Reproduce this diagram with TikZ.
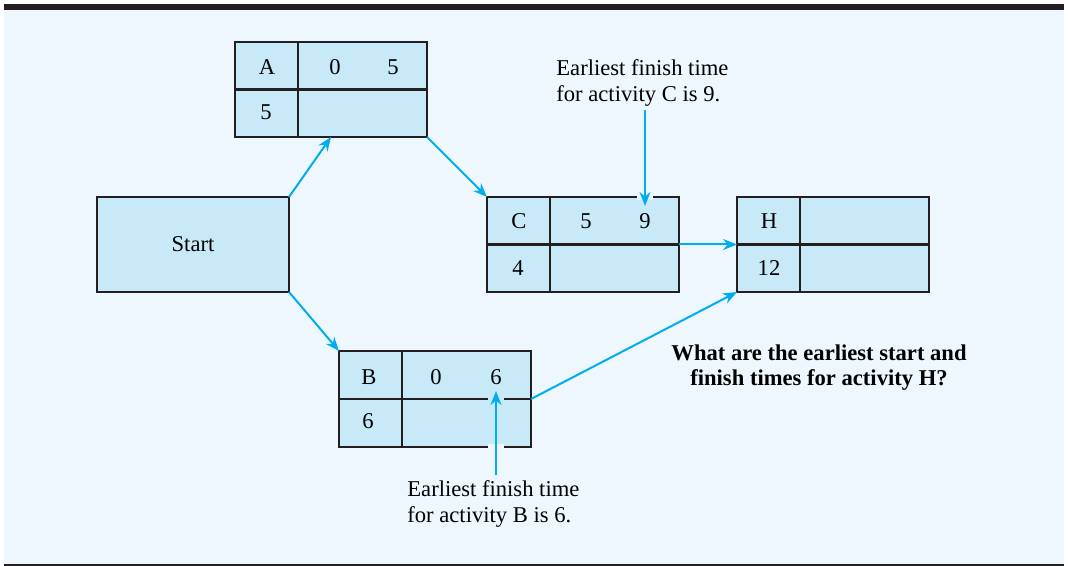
\documentclass[tikz,border=0pt]{standalone}
\usepackage{fontspec}
\setmainfont{Liberation Serif}
\usetikzlibrary{calc,arrows.meta}

\definecolor{panelbg}{HTML}{EEF7FD}
\definecolor{boxfill}{HTML}{C8E9F8}
\definecolor{boxline}{HTML}{231F20}
\definecolor{linkcyan}{HTML}{00AEEF}

\tikzset{
  actbox/.style={draw=boxline,fill=boxfill,line width=1.1pt,
    minimum width=96pt,minimum height=47.5pt,inner sep=0pt,outer sep=0pt},
  cellline/.style={draw=boxline,line width=1.1pt},
  link/.style={draw=linkcyan,line width=1pt,-{Stealth[length=7pt,width=5.5pt]}},
  gapmark/.style={line width=8pt},
}

\begin{document}
\begin{tikzpicture}[x=.5pt,y=-.5pt,
      every node/.style={font=\fontsize{11.3}{13}\selectfont,inner sep=0pt}]
    % panel
    \fill[white] (0,0) rectangle (1068,566);
    \fill[panelbg] (4,10) rectangle (1064,564);
    \fill[boxline] (4,4) rectangle (1064,10);
    \fill[boxline] (4,564) rectangle (1064,566);

    % boxes
    \node[actbox] (A) at (331,89.5) {};
    \node[actbox] (Start) at (193,244.5) {Start};
    \node[actbox] (C) at (583,244.5) {};
    \node[actbox] (H) at (833,244.5) {};
    \node[actbox,minimum height=48pt] (B) at (435,399) {};
    \foreach \n in {A,C,H,B} {
      \draw[cellline] (\n.west) -- (\n.east);
      \draw[cellline] ($(\n.north west)!.33!(\n.north east)$)
        -- ($(\n.south west)!.33!(\n.south east)$);
    }

    % cells
    \node (Aname) at (267,67) {A};
    \node (Aes) at (335,67) {0};
    \node (Aef) at (393,67) {5};
    \node (Adur) at (266,112) {5};
    \node (Cname) at (519,221) {C};
    \node (Ces) at (586,221) {5};
    \node (Cef) at (645,221) {9};
    \node (Cdur) at (518,268) {4};
    \node (Hname) at (769,221) {H};
    \node (Hdur) at (769,268) {12};
    \node (Bname) at (369,377) {B};
    \node (Bes) at (436,377) {0};
    \node (Bef) at (496,377) {6};
    \node (Bdur) at (368,421) {6};

    % links
    \draw[link] (Start.north east) -- (A.south);
    \draw[link] (A.south east) -- (C.north west);
    \draw[link] (Start.south east) -- (B.north west);
    \draw[link] (C.east) -- (H.west);
    \draw[link] (B.east) -- (H.south west);

    % notes
    \node[align=left,anchor=west] (noteC) at (556,83)
      {Earliest finish time\\for activity C is 9.};
    \node[align=left,anchor=west] (noteB) at (407,504)
      {Earliest finish time\\for activity B is 6.};
    \node[align=center,font=\fontsize{11.3}{12.5}\selectfont\bfseries] (question)
      at (819,367.5) {What are the earliest start and\\finish times for activity H?};
    \coordinate (tailC) at (645,110);
    \coordinate (tipC) at (645,206);
    \coordinate (tailB) at (496,475);
    \coordinate (tipB) at (496,391);
    \draw[gapmark,panelbg] (645,194) -- (645,200);
    \draw[gapmark,boxfill] (496,397) -- (496,403);
    \draw[gapmark,panelbg] (496,444) -- (496,450);
    \draw[link] (tailC) -- (tipC);
    \draw[link] (tailB) -- (tipB);
  \end{tikzpicture}
\end{document}
